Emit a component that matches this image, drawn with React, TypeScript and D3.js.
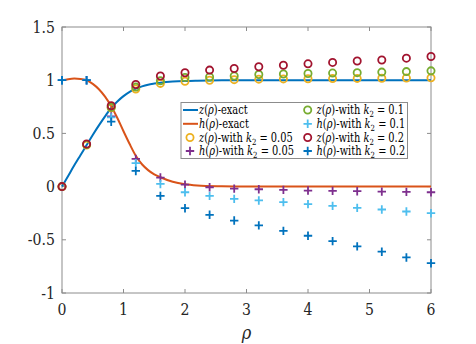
import React from "react";
import * as d3 from "d3";

const rhoPts = [0, 0.4, 0.8, 1.2, 1.6, 2.0, 2.4, 2.8, 3.2, 3.6, 4.0, 4.4, 4.8, 5.2, 5.6, 6.0];
const zK005 = [0, 0.39, 0.74, 0.917, 0.97, 0.99, 1.0, 1.005, 1.01, 1.012, 1.014, 1.015, 1.017, 1.018, 1.02, 1.022];
const hK005 = [1, 1.0, 0.66, 0.26, 0.085, 0.019, -0.006, -0.019, -0.025, -0.031, -0.037, -0.04, -0.043, -0.047, -0.05, -0.053];
const zK01 = [0, 0.395, 0.745, 0.935, 0.995, 1.026, 1.03, 1.04, 1.054, 1.058, 1.063, 1.067, 1.071, 1.076, 1.081, 1.088];
const hK01 = [1, 1.0, 0.65, 0.22, 0.025, -0.053, -0.087, -0.115, -0.13, -0.146, -0.165, -0.181, -0.2, -0.215, -0.234, -0.25];
const zK02 = [0, 0.4, 0.76, 0.96, 1.04, 1.07, 1.095, 1.11, 1.126, 1.14, 1.154, 1.167, 1.18, 1.19, 1.207, 1.223];
const hK02 = [1, 1.0, 0.61, 0.147, -0.087, -0.203, -0.265, -0.319, -0.364, -0.416, -0.462, -0.512, -0.562, -0.612, -0.666, -0.72];

const rhoExact = [0, 0.1, 0.2, 0.3, 0.4, 0.5, 0.6, 0.7, 0.8, 0.9, 1.0, 1.1, 1.2, 1.3, 1.4, 1.5, 1.6, 1.8, 2.0, 2.2, 2.6, 3.0, 4.0, 5.0, 6.0];
const zExact = [0, 0.1, 0.2, 0.295, 0.39, 0.485, 0.575, 0.66, 0.74, 0.8, 0.85, 0.89, 0.92, 0.942, 0.958, 0.968, 0.976, 0.987, 0.993, 0.996, 0.999, 1, 1, 1, 1];
const hExact = [1, 1.01, 1.015, 1.012, 1.0, 0.965, 0.915, 0.845, 0.755, 0.645, 0.52, 0.4, 0.29, 0.21, 0.155, 0.115, 0.088, 0.045, 0.022, 0.011, 0.003, 0, 0, 0, 0];

const xTicks = [0, 1, 2, 3, 4, 5, 6];
const yTicks = [-1, -0.5, 0, 0.5, 1, 1.5];

const C = {
  blue: "#0072BD",
  orange: "#D95319",
  yellow: "#EDB120",
  purple: "#7E2F8E",
  green: "#77AC30",
  lightblue: "#4DBEEE",
  red: "#A2142F",
};

const L = 62, R = 431, T = 27, B = 293;
const FONT = "DejaVu Serif";

export default function App() {
  const x = d3.scaleLinear().domain([0, 6]).range([L, R]);
  const y = d3.scaleLinear().domain([-1, 1.5]).range([B, T]);
  const line = d3
    .line<number>()
    .x((_, i) => x(rhoExact[i]))
    .y((d) => y(d))
    .curve(d3.curveMonotoneX);

  const axisColor = "#8c8c8c";
  const ts = { fontFamily: FONT };

  const circles = (vals: number[], color: string, key: string) =>
    vals.map((v, i) => (
      <circle key={key + i} cx={x(rhoPts[i])} cy={y(v)} r={3.6} fill="none" stroke={color} strokeWidth={1.8} />
    ));
  const pluses = (vals: number[], color: string, key: string) =>
    vals.map((v, i) => {
      const cx = x(rhoPts[i]);
      const cy = y(v);
      const s = 4.2;
      return (
        <path key={key + i} d={`M${cx - s},${cy}H${cx + s}M${cx},${cy - s}V${cy + s}`} stroke={color} strokeWidth={1.8} fill="none" />
      );
    });

  const mathLabel = (fn: string, rest: string, k?: string) => (
    <>
      <tspan fontStyle="italic">{fn}</tspan>
      <tspan>(</tspan>
      <tspan fontStyle="italic">ρ</tspan>
      <tspan>){rest}</tspan>
      {k !== undefined && (
        <>
          <tspan fontStyle="italic"> k</tspan>
          <tspan fontSize={8.5} dy={3}>2</tspan>
          <tspan dy={-3}> = {k}</tspan>
        </>
      )}
    </>
  );

  const legendRows = [110, 123.8, 137.5, 151];
  const col1Marker = 190;
  const col1Text = 199;
  const col2Marker = 307.7;
  const col2Text = 316.5;
  const LSX = 0.82;
  const TSX = 0.88;

  const legMarker = (type: "line" | "circle" | "plus", color: string, cx: number, cy: number) => {
    if (type === "line") return <line x1={183} x2={198} y1={cy} y2={cy} stroke={color} strokeWidth={2} />;
    if (type === "circle") return <circle cx={cx} cy={cy} r={3.6} fill="none" stroke={color} strokeWidth={1.8} />;
    const s = 4.2;
    return <path d={`M${cx - s},${cy}H${cx + s}M${cx},${cy - s}V${cy + s}`} stroke={color} strokeWidth={1.8} />;
  };

  const legText = (tx: number, ty: number, content: React.ReactNode) => (
    <text transform={`translate(${tx},${ty + 4}) scale(${LSX},1)`} fontSize={12} fill="#000" style={ts}>{content}</text>
  );

  return (
    <svg width={476} height={344} style={{ position: "absolute", left: 0, top: 0, background: "#fff" }}>
      <rect x={0} y={0} width={476} height={344} fill="#fff" />
      <rect x={L} y={T} width={R - L} height={B - T} fill="none" stroke={axisColor} strokeWidth={1} />
      {xTicks.map((t) => (
        <g key={"xt" + t}>
          <line x1={x(t)} x2={x(t)} y1={B} y2={B - 4} stroke={axisColor} />
          <line x1={x(t)} x2={x(t)} y1={T} y2={T + 4} stroke={axisColor} />
          <text transform={`translate(${x(t)},315) scale(${TSX},1)`} textAnchor="middle" fontSize={16} fill="#262626" style={ts}>{t}</text>
        </g>
      ))}
      {yTicks.map((t) => (
        <g key={"yt" + t}>
          <line x1={L} x2={L + 4} y1={y(t)} y2={y(t)} stroke={axisColor} />
          <line x1={R} x2={R - 4} y1={y(t)} y2={y(t)} stroke={axisColor} />
          <text transform={`translate(55,${y(t) + 5.5}) scale(${TSX},1)`} textAnchor="end" fontSize={16} fill="#262626" style={ts}>{t}</text>
        </g>
      ))}
      <text transform="translate(246.5,339) scale(0.9,1)" textAnchor="middle" fontSize={18} fontStyle="italic" fill="#262626" style={ts}>ρ</text>

      <path d={line(zExact) || ""} fill="none" stroke={C.blue} strokeWidth={2} />
      <path d={line(hExact) || ""} fill="none" stroke={C.orange} strokeWidth={2} />
      {circles(zK005, C.yellow, "zy")}
      {pluses(hK005, C.purple, "hp")}
      {circles(zK01, C.green, "zg")}
      {pluses(hK01, C.lightblue, "hl")}
      {circles(zK02, C.red, "zr")}
      {pluses(hK02, C.blue, "hb")}

      <rect x={181} y={102.5} width={226.5} height={56} fill="#fff" stroke={axisColor} strokeWidth={1} />
      <g>
        {legMarker("line", C.blue, col1Marker, legendRows[0])}
        {legText(col1Text, legendRows[0], mathLabel("z", "-exact"))}
        {legMarker("line", C.orange, col1Marker, legendRows[1])}
        {legText(col1Text, legendRows[1], mathLabel("h", "-exact"))}
        {legMarker("circle", C.yellow, col1Marker, legendRows[2])}
        {legText(col1Text, legendRows[2], mathLabel("z", "-with", "0.05"))}
        {legMarker("plus", C.purple, col1Marker, legendRows[3])}
        {legText(col1Text, legendRows[3], mathLabel("h", "-with", "0.05"))}

        {legMarker("circle", C.green, col2Marker, legendRows[0])}
        {legText(col2Text, legendRows[0], mathLabel("z", "-with", "0.1"))}
        {legMarker("plus", C.lightblue, col2Marker, legendRows[1])}
        {legText(col2Text, legendRows[1], mathLabel("h", "-with", "0.1"))}
        {legMarker("circle", C.red, col2Marker, legendRows[2])}
        {legText(col2Text, legendRows[2], mathLabel("z", "-with", "0.2"))}
        {legMarker("plus", C.blue, col2Marker, legendRows[3])}
        {legText(col2Text, legendRows[3], mathLabel("h", "-with", "0.2"))}
      </g>
    </svg>
  );
}
